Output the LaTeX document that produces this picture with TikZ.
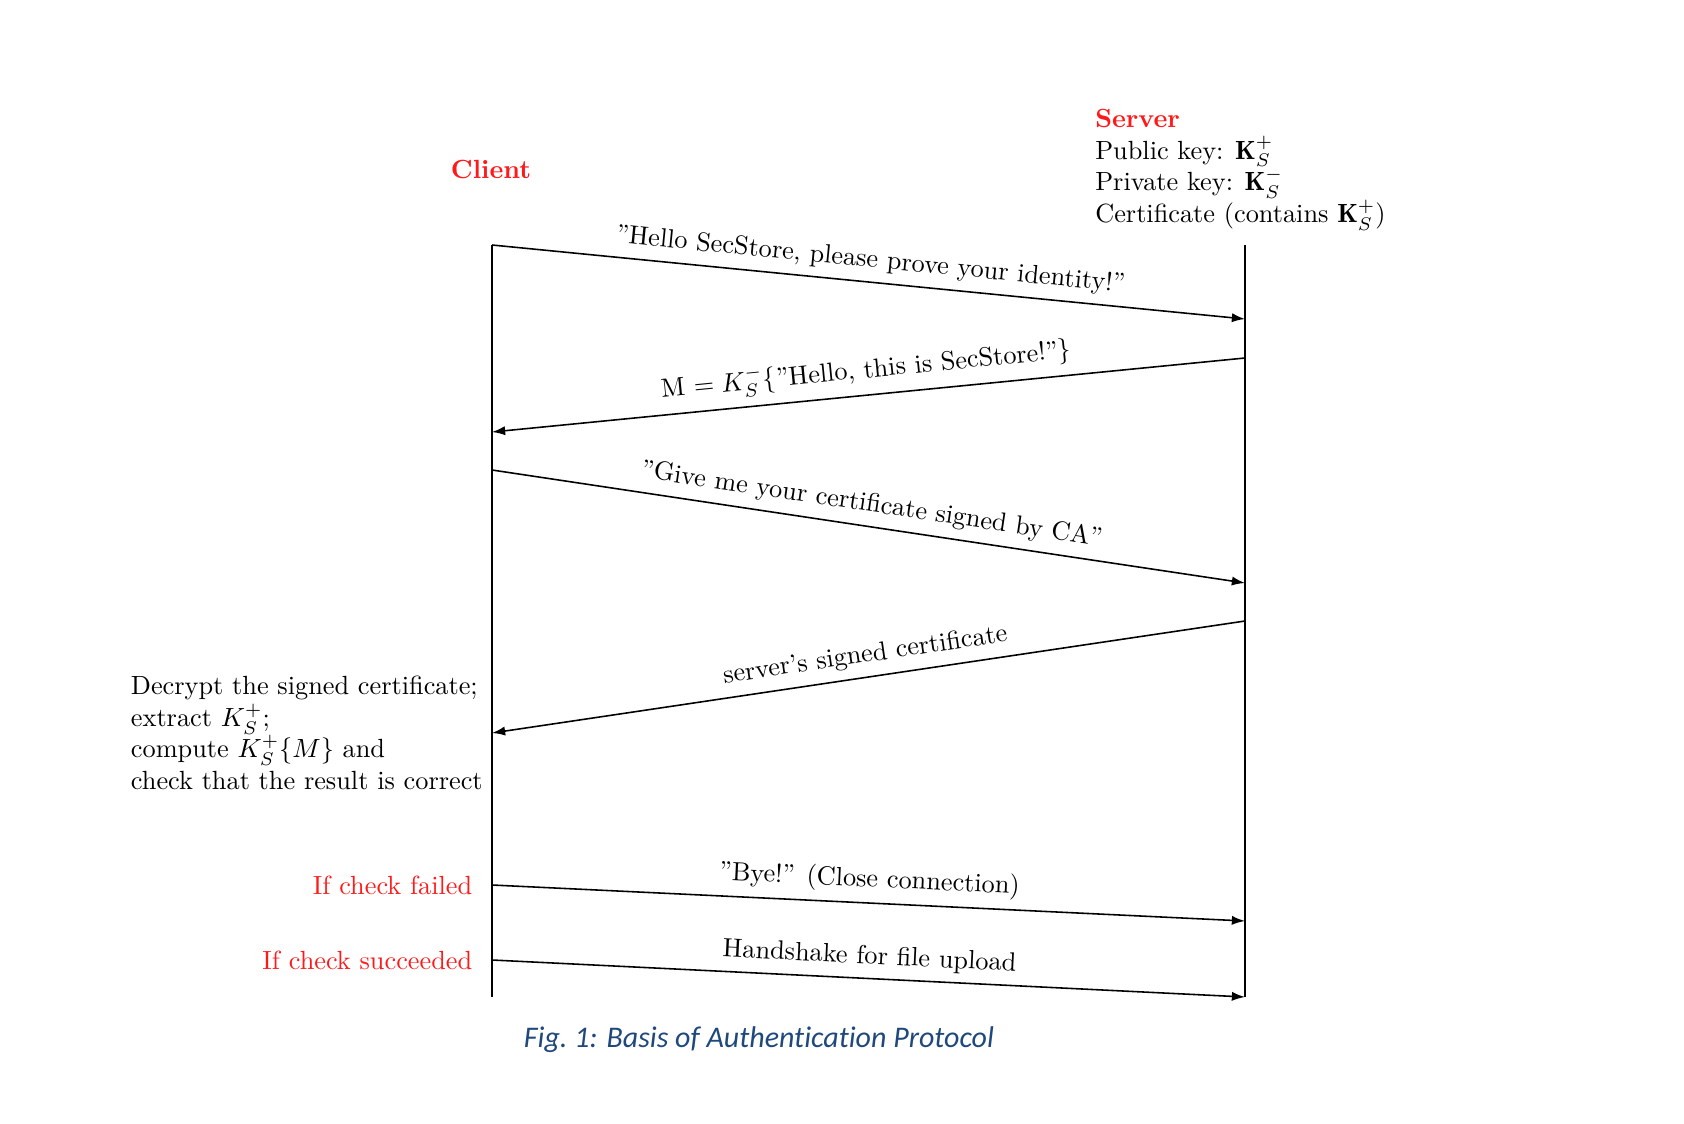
\documentclass[tikz,border=0pt]{standalone}
\usepackage{fontspec}
\newfontfamily\capfont[Ligatures=NoCommon]{Carlito}
\usetikzlibrary{positioning}
\usetikzlibrary{arrows.meta}
\definecolor{actorred}{rgb}{1.0,0.1,0.1}
\definecolor{capblue}{HTML}{1F497D}

\begin{document}
\begin{tikzpicture}[%
  x=0.01336cm, y=-0.01336cm,
  life/.style={thin},
  msg/.style={semithick, -{Latex[length=5pt,width=3.5pt]}},
  actor/.style={text=actorred, font=\bfseries},
  note/.style={align=left},
]

  \useasboundingbox (0,0) rectangle (1684,1124);

  \coordinate (ctop) at (492,245);
  \coordinate (cbot) at (492,997);
  \coordinate (stop) at (1245,245);
  \coordinate (sbot) at (1245,997);

  \coordinate (c1) at (492,245);
  \coordinate (s1) at (1245,319);
  \coordinate (s2) at (1245,358);
  \coordinate (c2) at (492,432);
  \coordinate (c3) at (492,470);
  \coordinate (s3) at (1245,583);
  \coordinate (s4) at (1245,621);
  \coordinate (c4) at (492,733);
  \coordinate (c5) at (492,885);
  \coordinate (s5) at (1245,921);
  \coordinate (c6) at (492,960);
  \coordinate (s6) at (1245,997);

  % Lifelines
  \draw[life] (ctop)--(cbot);
  \draw[life] (stop)--(sbot);

  \node[actor] (client) at (491,169) {Client};
  \node[note, anchor=north west] (server) at (1086,100)
    {\textcolor{actorred}{\bfseries Server}\\
     Public key: $\mathbf{K}_S^+$\\
     Private key: $\mathbf{K}_S^-$\\
     Certificate (contains $\mathbf{K}_S^+$)};

  % Messages
  \draw[msg] (c1) -- node[above, sloped] (m1)
    {''Hello SecStore, please prove your identity!''} (s1);
  \draw[msg] (s2) -- node[above, sloped] (m2)
    {M $=K_S^-\{$''Hello, this is SecStore!''$\}$} (c2);
  \draw[msg] (c3) -- node[above, sloped] (m3)
    {''Give me your certificate signed by CA''} (s3);
  \draw[msg] (s4) -- node[above, sloped] (m4)
    {server's signed certificate} (c4);
  \draw[msg] (c5) -- node[above, sloped] (m5)
    {''Bye!'' (Close connection)} (s5);
  \draw[msg] (c6) -- node[above, sloped] (m6)
    {Handshake for file upload} (s6);

  \node[note, anchor=east] (check) at (c4)
    {Decrypt the signed certificate;\\
     extract $K_S^+$;\\
     compute $K_S^+\{M\}$ and\\
     check that the result is correct};
  \node[text=actorred, anchor=east, xshift=-4pt] (failed) at (c5) {If check failed};
  \node[text=actorred, anchor=east, xshift=-4pt] (passed) at (c6) {If check succeeded};

  \node[font=\capfont\itshape\fontsize{11.4}{13}\selectfont, text=capblue] (caption)
    at (759,1040) {Fig.\ 1: Basis of Authentication Protocol};

\end{tikzpicture}
\end{document}
